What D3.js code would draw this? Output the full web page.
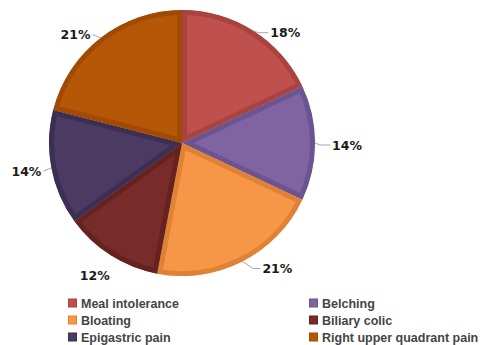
<!DOCTYPE html>
<html>
<head>
<meta charset="utf-8">
<script src="https://cdn.jsdelivr.net/npm/d3@7"></script>
<style>
  body { margin: 0; background: #fff; }
  svg { display: block; }
</style>
</head>
<body>
<div id="main"></div>
<script>
const categories = ["Meal intolerance", "Belching", "Bloating", "Biliary colic", "Epigastric pain", "Right upper quadrant pain"];
const values = [18, 14, 21, 12, 14, 21];
const fills = ["#c0504d", "#8064a2", "#f79646", "#772c2a", "#4b3a62", "#b65708"];
const borders = ["#a8433f", "#6c5490", "#e08236", "#66221f", "#3d2f53", "#a04a04"];

const width = 484, height = 345;
const cx = 182, cy = 143, r = 133;

const svg = d3.select('#main')
    .append('svg')
    .attr('width', width)
    .attr('height', height);

const pie = d3.pie().sort(null).value(d => d.value);
const arc = d3.arc().innerRadius(0).outerRadius(r);

const rows = categories.map((c, i) => ({ name: c, value: values[i], i: i }));
const arcs = pie(rows);

const g = svg.append('g').attr('transform', `translate(${cx},${cy})`);
const defs = svg.append('defs');

defs.selectAll('clipPath')
    .data(arcs)
    .enter()
    .append('clipPath')
    .attr('id', d => 'clip' + d.data.i)
    .append('path')
    .attr('d', arc);

// slices with an inner border (stroke clipped to the slice)
g.selectAll('path.slice')
    .data(arcs)
    .enter()
    .append('path')
    .attr('class', 'slice')
    .attr('d', arc)
    .attr('fill', d => fills[d.data.i])
    .attr('stroke', d => borders[d.data.i])
    .attr('stroke-width', 10)
    .attr('stroke-linejoin', 'round')
    .attr('clip-path', d => `url(#clip${d.data.i})`);

// labels with leader lines
function edge(d, rr) {
    const a = (d.startAngle + d.endAngle) / 2;
    return [rr * Math.sin(a), -rr * Math.cos(a)];
}

const lab = g.selectAll('g.lab')
    .data(arcs)
    .enter()
    .append('g')
    .attr('class', 'lab');

lab.each(function(d) {
    const p = edge(d, r);
    const a = (d.startAngle + d.endAngle) / 2;
    const right = Math.sin(a) >= 0;
    const s = right ? 1 : -1;
    const el = d3.select(this);
    const bottomish = Math.cos(a) < -0.8;
    let tx, ty, line = true;
    if (right) {
        tx = p[0] + (bottomish ? 20 : 17);
        ty = p[1] + (bottomish ? 7 : 2);
    } else if (bottomish) {
        tx = p[0] - 1;
        ty = p[1] + 20;
        line = false;
    } else {
        tx = p[0] - 10;
        ty = p[1] + 2 - 7 * Math.cos(a);
    }
    if (line) {
        el.append('path')
            .attr('d', right
                ? `M${p[0]},${p[1]} L${p[0] + (bottomish ? 11 : 5)},${ty} L${tx - 2},${ty}`
                : `M${p[0]},${p[1]} L${tx + 2},${ty}`)
            .attr('fill', 'none')
            .attr('stroke', '#a6a6a6')
            .attr('stroke-width', 1);
    }
    el.append('text')
        .attr('x', tx)
        .attr('y', ty)
        .attr('dy', '0.36em')
        .attr('text-anchor', right ? 'start' : 'end')
        .style('font-family', 'DejaVu Sans, Verdana, sans-serif')
        .style('font-weight', 'bold')
        .style('font-size', '12.5px')
        .style('fill', '#1a1a1a')
        .text(d.data.value + '%');
});

// legend
const legend = svg.append('g');
const colX = [68, 309], rowY = [303, 320, 337];

const items = legend.selectAll('g')
    .data(rows)
    .enter()
    .append('g')
    .attr('transform', d => `translate(${colX[d.i % 2]},${rowY[Math.floor(d.i / 2)]})`);

items.append('rect')
    .attr('x', 0.5)
    .attr('y', -4)
    .attr('width', 8)
    .attr('height', 8)
    .attr('fill', d => fills[d.i])
    .attr('stroke', d => borders[d.i])
    .attr('stroke-width', 1);

items.append('text')
    .attr('x', 13)
    .attr('y', 0)
    .attr('dy', '0.36em')
    .style('font-family', 'Liberation Sans, Arial, sans-serif')
    .style('font-weight', 'bold')
    .style('font-size', '12.5px')
    .style('fill', '#454545')
    .text(d => d.name);
</script>
</body>
</html>
